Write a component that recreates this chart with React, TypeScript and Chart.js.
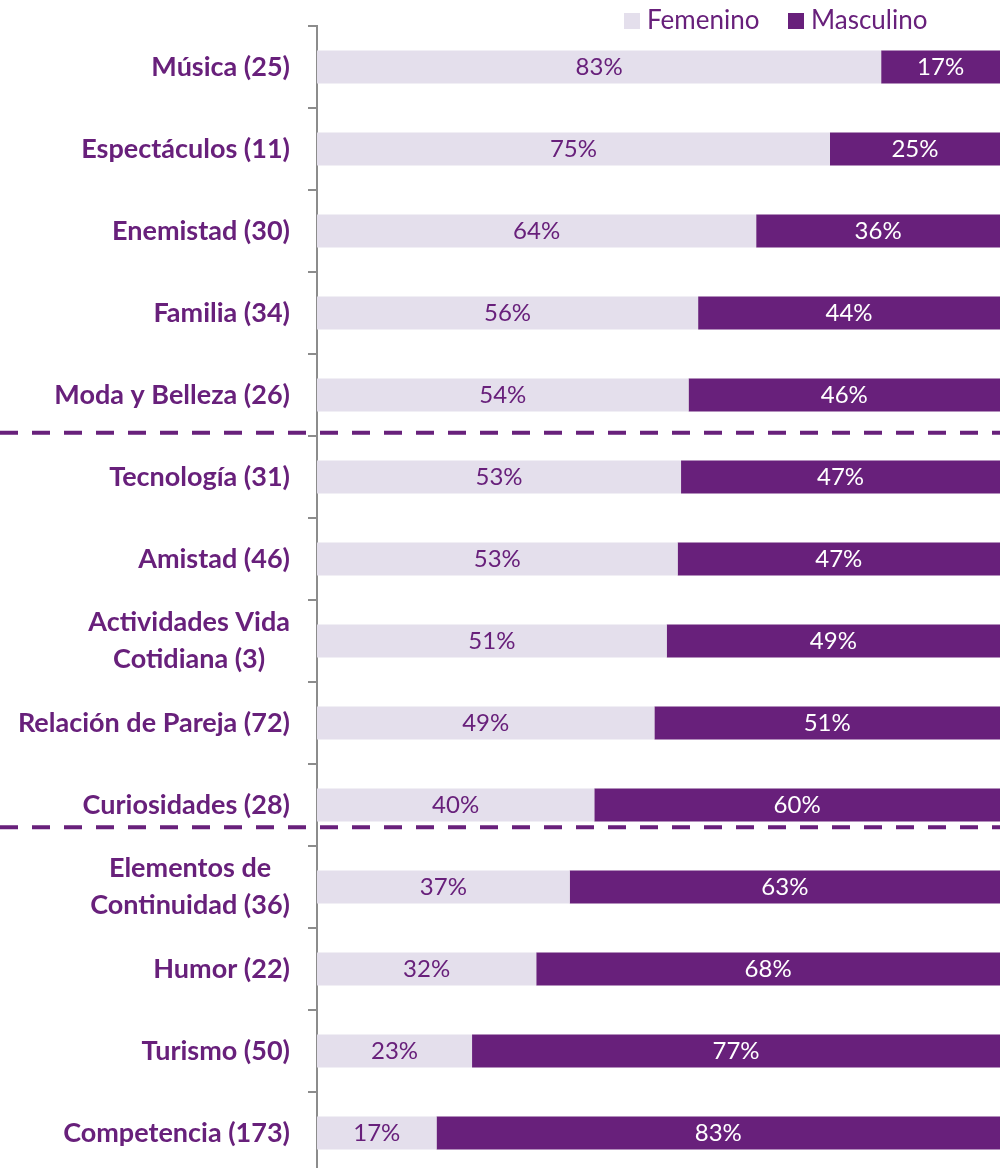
import React, { useEffect, useRef } from "react";
import { Chart, registerables } from "chart.js";

Chart.register(...registerables);

const categories: string[][] = [
  ["Música (25)"],
  ["Espectáculos (11)"],
  ["Enemistad (30)"],
  ["Familia (34)"],
  ["Moda y Belleza (26)"],
  ["Tecnología (31)"],
  ["Amistad (46)"],
  ["Actividades Vida", "Cotidiana (3)"],
  ["Relación de Pareja (72)"],
  ["Curiosidades (28)"],
  ["Elementos de", "Continuidad (36)"],
  ["Humor (22)"],
  ["Turismo (50)"],
  ["Competencia (173)"],
];

const femenino: number[] = [82.6, 75.1, 64.3, 55.8, 54.4, 53.3, 52.8, 51.2, 49.4, 40.6, 37.0, 32.1, 22.7, 17.5];
const masculino: number[] = [17.4, 24.9, 35.7, 44.2, 45.6, 46.7, 47.2, 48.8, 50.6, 59.4, 63.0, 67.9, 77.3, 82.5];

const femeninoLabels: string[] = ["83%", "75%", "64%", "56%", "54%", "53%", "53%", "51%", "49%", "40%", "37%", "32%", "23%", "17%"];
const masculinoLabels: string[] = ["17%", "25%", "36%", "44%", "46%", "47%", "47%", "49%", "51%", "60%", "63%", "68%", "77%", "83%"];

// separator positions in category-index units
const separators: number[] = [4.46, 9.27];

const PURPLE = "#68207b";
const LIGHT = "#e4dfec";
const FONT = "Lato, 'Open Sans', sans-serif";

export default function App() {
  const ref = useRef<HTMLCanvasElement>(null);

  useEffect(() => {
    document.body.style.margin = "0";
    document.documentElement.style.overflow = "hidden";
    document.body.style.overflow = "hidden";
    const canvas = ref.current!;
    const labelSets = [femeninoLabels, masculinoLabels];
    const overlay = {
      id: "overlay",
      afterDraw(chart: any) {
        const ctx = chart.ctx as CanvasRenderingContext2D;
        const ys = chart.scales.y;
        ctx.save();
        // category labels
        ctx.fillStyle = PURPLE;
        ctx.font = `bold 27px ${FONT}`;
        ctx.textAlign = "center";
        ctx.textBaseline = "middle";
        categories.forEach((lines, i) => {
          const y = ys.getPixelForValue(i);
          const maxW = Math.max(...lines.map((l) => ctx.measureText(l).width));
          const cx = 290 - maxW / 2;
          lines.forEach((l, j) => {
            ctx.fillText(l, cx, y + (j - (lines.length - 1) / 2) * 37);
          });
        });
        // data labels
        ctx.font = `24px ${FONT}`;
        chart.data.datasets.forEach((ds: any, di: number) => {
          const meta = chart.getDatasetMeta(di);
          ctx.fillStyle = di === 0 ? PURPLE : "#ffffff";
          meta.data.forEach((bar: any, i: number) => {
            const cx = (bar.x + bar.base) / 2;
            ctx.fillText(labelSets[di][i], cx, bar.y);
          });
        });
        // dashed separators
        ctx.strokeStyle = PURPLE;
        ctx.lineWidth = 4;
        ctx.setLineDash([18, 14]);
        separators.forEach((s) => {
          const y = ys.getPixelForValue(s);
          ctx.beginPath();
          ctx.moveTo(0, y);
          ctx.lineTo(chart.width, y);
          ctx.stroke();
        });
        ctx.setLineDash([]);
        // legend
        ctx.font = `26px ${FONT}`;
        ctx.textAlign = "left";
        const items = [
          { label: "Femenino", color: LIGHT, x: 624 },
          { label: "Masculino", color: PURPLE, x: 788 },
        ];
        items.forEach((it) => {
          ctx.fillStyle = it.color;
          ctx.fillRect(it.x, 13, 16, 16);
          ctx.fillStyle = PURPLE;
          ctx.fillText(it.label, it.x + 23, 21);
        });
        ctx.restore();
      },
    };

    const chart = new Chart(canvas, {
      type: "bar",
      data: {
        labels: categories,
        datasets: [
          {
            label: "Femenino",
            data: femenino,
            backgroundColor: LIGHT,
            barPercentage: 0.4,
            categoryPercentage: 1,
          },
          {
            label: "Masculino",
            data: masculino,
            backgroundColor: PURPLE,
            barPercentage: 0.4,
            categoryPercentage: 1,
          },
        ],
      },
      options: {
        indexAxis: "y",
        animation: false,
        responsive: false,
        maintainAspectRatio: false,
        layout: { padding: { top: 26, right: 0, bottom: 0, left: 0 } },
        plugins: {
          legend: { display: false },
          tooltip: { enabled: false },
        },
        scales: {
          x: {
            stacked: true,
            min: 0,
            max: 100,
            display: false,
          },
          y: {
            stacked: true,
            afterFit: (scale: any) => {
              scale.width = 317;
            },
            ticks: { display: false },
            grid: {
              display: true,
              drawOnChartArea: false,
              drawTicks: true,
              tickLength: 9,
              color: "#8c8c8c",
              lineWidth: 2,
            },
            border: { display: true, color: "#8c8c8c", width: 2 },
          },
        },
      },
      plugins: [overlay],
    } as any);
    return () => chart.destroy();
  }, []);

  return <canvas ref={ref} width={1000} height={1174} style={{ display: "block" }} />;
}
